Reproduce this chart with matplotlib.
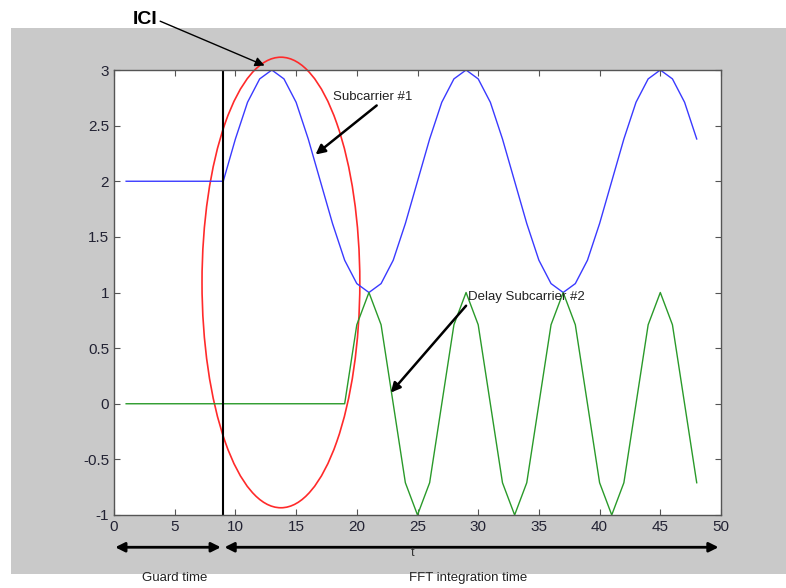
import matplotlib
matplotlib.use('Agg')
import matplotlib.pyplot as plt
from matplotlib.patches import Ellipse, Rectangle

plt.rcParams['font.family'] = ['Liberation Sans', 'DejaVu Sans']

# sample index (time)
t = list(range(1, 49))

# subcarrier #1 (guard interval at 2, then one cycle per 16 samples)
subcarrier_1 = [2.00, 2.00, 2.00, 2.00, 2.00, 2.00, 2.00, 2.00,
                2.00, 2.38, 2.71, 2.92, 3.00, 2.92, 2.71, 2.38,
                2.00, 1.62, 1.29, 1.08, 1.00, 1.08, 1.29, 1.62,
                2.00, 2.38, 2.71, 2.92, 3.00, 2.92, 2.71, 2.38,
                2.00, 1.62, 1.29, 1.08, 1.00, 1.08, 1.29, 1.62,
                2.00, 2.38, 2.71, 2.92, 3.00, 2.92, 2.71, 2.38]

# delayed subcarrier #2
subcarrier_2 = [0, 0, 0, 0, 0, 0, 0, 0, 0, 0,
                0, 0, 0, 0, 0, 0, 0, 0, 0,
                0.71, 1.00, 0.71, 0.00, -0.71, -1.00, -0.71, 0.00,
                0.71, 1.00, 0.71, 0.00, -0.71, -1.00, -0.71, 0.00,
                0.71, 1.00, 0.71, 0.00, -0.71, -1.00, -0.71, 0.00,
                0.71, 1.00, 0.71, 0.00, -0.71]

x_ticks = [0, 5, 10, 15, 20, 25, 30, 35, 40, 45, 50]
y_ticks = [-1, -0.5, 0, 0.5, 1, 1.5, 2, 2.5, 3]
y_tick_labels = ['-1', '-0.5', '0', '0.5', '1', '1.5', '2', '2.5', '3']

guard_end = 9
ici_center = (13.75, 1.09)
ici_size = (13.0, 4.05)

fig = plt.figure(figsize=(7.86, 5.88), dpi=100)
fig.patch.set_facecolor('white')
fig.patches.append(Rectangle((11 / 786, 1 - 574 / 588), 1.0, (574 - 28) / 588,
                             transform=fig.transFigure, facecolor='#c9c9c9',
                             edgecolor='none', zorder=-10))

ax = fig.add_axes([114 / 786, 1 - 515 / 588, (721 - 114) / 786, (515 - 70) / 588])
ax.set_facecolor('white')

ax.plot(t, subcarrier_1, color='#3a3aff', lw=1.0)
ax.plot(t, subcarrier_2, color='#2a9a2a', lw=1.0)
ax.plot([guard_end, guard_end], [-1, 3], color='black', lw=1.5)

ell = Ellipse(ici_center, ici_size[0], ici_size[1], fill=False,
              edgecolor='#ff2a2a', lw=1.2, clip_on=False)
ax.add_patch(ell)

ax.set_xlim(0, 50)
ax.set_ylim(-1, 3)
ax.set_xticks(x_ticks)
ax.set_yticks(y_ticks)
ax.set_yticklabels(y_tick_labels)
ax.tick_params(direction='in', top=True, right=True, length=4,
               labelsize=11, colors='#555555', labelcolor='#222233')
for s in ax.spines.values():
    s.set_color('#555555')
    s.set_linewidth(1.0)

# ICI label
ax.annotate('ICI', xy=(12.4, 3.04), xytext=(145, 568), textcoords='figure pixels',
            fontsize=14, fontweight='bold', ha='center', va='center',
            annotation_clip=False,
            arrowprops=dict(arrowstyle='-|>', color='black', lw=1.0,
                            mutation_scale=14, shrinkA=0, shrinkB=0,
                            relpos=(1.0, 0.5)))

ax.annotate('Subcarrier #1', xy=(16.6, 2.24), xytext=(18.0, 2.76),
            fontsize=9.5, color='#222222', ha='left', va='center',
            arrowprops=dict(arrowstyle='-|>', color='black', lw=1.8,
                            mutation_scale=14, shrinkA=0, shrinkB=0,
                            relpos=(0.6, 0.0)))

ax.annotate('Delay Subcarrier #2', xy=(22.8, 0.1), xytext=(29.2, 0.96),
            fontsize=9.5, color='#222222', ha='left', va='center',
            arrowprops=dict(arrowstyle='-|>', color='black', lw=1.8,
                            mutation_scale=14, shrinkA=0, shrinkB=0,
                            relpos=(0.0, 0.0)))

# bottom time spans
ax.annotate('', xy=(0.1, -1.29), xytext=(8.8, -1.29), annotation_clip=False,
            arrowprops=dict(arrowstyle='<|-|>', color='black', lw=2.0,
                            mutation_scale=14, shrinkA=0, shrinkB=0))
ax.annotate('', xy=(9.1, -1.29), xytext=(49.8, -1.29), annotation_clip=False,
            arrowprops=dict(arrowstyle='<|-|>', color='black', lw=2.0,
                            mutation_scale=14, shrinkA=0, shrinkB=0))
fig.text(413 / 786, 1 - 553 / 588, 't', fontsize=9, ha='center', va='center',
         color='#333333')
fig.text(175 / 786, 1 - 578 / 588, 'Guard time', fontsize=9.5, ha='center',
         va='center', color='#222222')
fig.text(468 / 786, 1 - 578 / 588, 'FFT integration time', fontsize=9.5,
         ha='center', va='center', color='#222222')

fig.savefig('out.png', dpi=100)
